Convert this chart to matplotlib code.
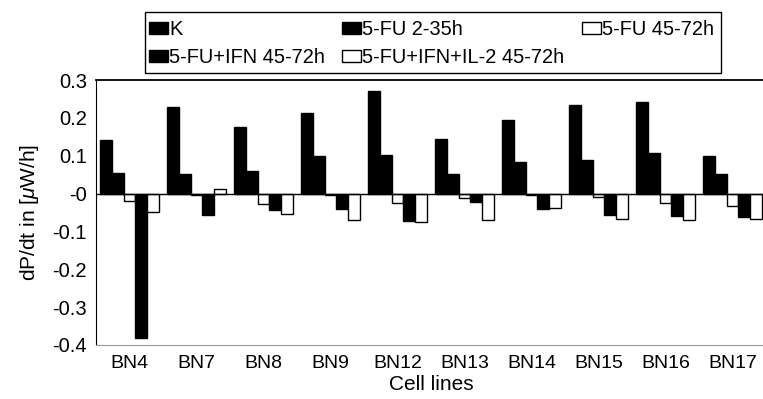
import numpy as np
import matplotlib
matplotlib.use('Agg')
import matplotlib.pyplot as plt
from matplotlib.patches import Rectangle, Patch

plt.rcParams['font.family'] = ['Liberation Sans', 'DejaVu Sans']
plt.rcParams['axes.unicode_minus'] = False
plt.rcParams['mathtext.fontset'] = 'custom'
plt.rcParams['mathtext.it'] = 'Liberation Sans:italic'
plt.rcParams['mathtext.rm'] = 'Liberation Sans'

# values
cells = ['BN4', 'BN7', 'BN8', 'BN9', 'BN12', 'BN13', 'BN14', 'BN15', 'BN16', 'BN17']
k = [0.142, 0.229, 0.176, 0.212, 0.270, 0.145, 0.194, 0.234, 0.242, 0.100]
fu_2_35 = [0.055, 0.051, 0.060, 0.100, 0.103, 0.051, 0.083, 0.090, 0.106, 0.051]
fu_45_72 = [-0.020, -0.005, -0.028, -0.005, -0.026, -0.012, -0.003, -0.010, -0.026, -0.032]
fu_ifn = [-0.381, -0.056, -0.044, -0.042, -0.073, -0.021, -0.042, -0.057, -0.060, -0.061]
fu_ifn_il2 = [-0.049, 0.011, -0.053, -0.069, -0.075, -0.069, -0.037, -0.068, -0.070, -0.066]

series_names = ['K', '5-FU 2-35h', '5-FU 45-72h', '5-FU+IFN 45-72h', '5-FU+IFN+IL-2 45-72h']
series_values = [k, fu_2_35, fu_45_72, fu_ifn, fu_ifn_il2]
series_colors = ['black', 'black', 'white', 'black', 'white']

W, H = 763, 399
fig = plt.figure(figsize=(W / 100, H / 100), dpi=100)
# axes runs a bit past the right edge, like the cropped original
ax = fig.add_axes([96 / W, 1 - 345 / H, 670 / W, 265 / H])

x = np.arange(len(cells))
bar_w = 0.176
for i, (name, vals, col) in enumerate(zip(series_names, series_values, series_colors)):
    off = (i - 2) * bar_w
    ax.bar(x + off, vals, bar_w, color=col, edgecolor='black', linewidth=1.0,
           label=name, zorder=2)

ax.axhline(0, color='black', lw=1.0, zorder=3)
ax.set_xlim(-0.5, len(cells) - 0.5)
ax.set_ylim(-0.4, 0.3)
yt = np.round(np.arange(-0.4, 0.31, 0.1), 1)
ax.set_yticks(yt)
ax.set_yticklabels([f'{v:g}' for v in yt])
ax.set_xticks(x)
ax.set_xticklabels(cells)
ax.tick_params(axis='x', length=0, pad=7, labelsize=14)
ax.tick_params(axis='y', length=0, pad=6.5, labelsize=14.5)

ax.spines['right'].set_visible(False)
ax.spines['left'].set_color('black')
ax.spines['top'].set_color('black')
ax.spines['top'].set_linewidth(1.3)
ax.spines['bottom'].set_color('#999999')

ax.set_xlabel('Cell lines', fontsize=15, labelpad=2)
ax.set_ylabel(r'dP/dt in [$\mu$W/h]', fontsize=15, labelpad=8)

# legend: three columns placed like the original, one frame around them
handles = [Patch(facecolor=c, edgecolor='black', linewidth=1.0) for c in series_colors]
columns = [([0, 3], 149), ([1, 4], 342), ([2], 582)]
for idx, xpos in columns:
    fig.legend([handles[j] for j in idx], [series_names[j] for j in idx],
               loc='upper left', bbox_to_anchor=(xpos / W, 1 - 20 / H),
               frameon=False, fontsize=14.4, borderpad=0, borderaxespad=0,
               handlelength=0.95, handleheight=0.55, handletextpad=0.05,
               labelspacing=0.45)
fig.patches.append(Rectangle((145 / W, 1 - 73 / H), 576 / W, 61 / H,
                             transform=fig.transFigure, fill=False,
                             edgecolor='black', linewidth=1.0))

fig.savefig('out.png', dpi=100)
